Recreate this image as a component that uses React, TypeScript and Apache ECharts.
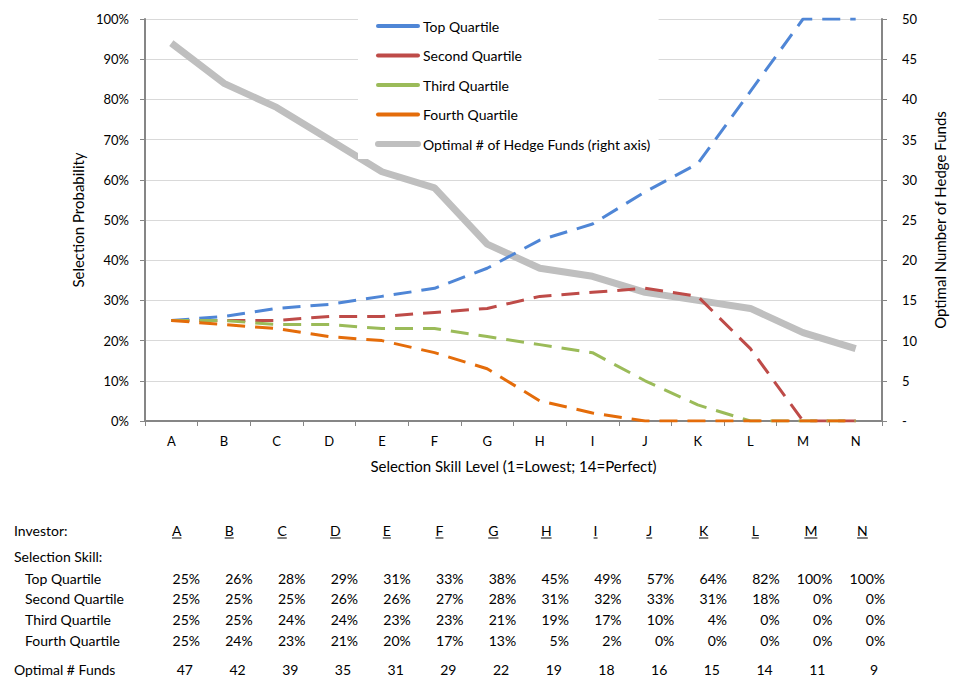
import React, { useEffect, useRef } from "react";
import * as echarts from "echarts";

const categories = ["A", "B", "C", "D", "E", "F", "G", "H", "I", "J", "K", "L", "M", "N"];
const topQuartile = [25, 26, 28, 29, 31, 33, 38, 45, 49, 57, 64, 82, 100, 100];
const secondQuartile = [25, 25, 25, 26, 26, 27, 28, 31, 32, 33, 31, 18, 0, 0];
const thirdQuartile = [25, 25, 24, 24, 23, 23, 21, 19, 17, 10, 4, 0, 0, 0];
const fourthQuartile = [25, 24, 23, 21, 20, 17, 13, 5, 2, 0, 0, 0, 0, 0];
const optimalFunds = [47, 42, 39, 35, 31, 29, 22, 19, 18, 16, 15, 14, 11, 9];

const seriesNames = [
  "Top Quartile",
  "Second Quartile",
  "Third Quartile",
  "Fourth Quartile",
  "Optimal # of Hedge Funds (right axis)",
];
const colors = ["#4F86D6", "#BE4B48", "#9BBB59", "#E46C0A", "#BFBFBF"];

const FONT = "Lato, 'Open Sans', sans-serif";

function measure(text: string, size: number): number {
  const c = document.createElement("canvas").getContext("2d");
  if (!c) return text.length * size * 0.5;
  c.font = `${size}px Lato`;
  return c.measureText(text).width;
}

export default function App() {
  const ref = useRef<HTMLDivElement>(null);
  useEffect(() => {
    if (!ref.current) return;
    const chart = echarts.init(ref.current, undefined, { renderer: "svg" });

    const colStep = 52.7;
    const col0 = 172;
    const tableSize = 14;
    const graphics: any[] = [];
    const txt = (text: string, x: number, y: number, align: string = "left") => {
      graphics.push({
        type: "text",
        x,
        y,
        style: {
          text,
          x: 0,
          y: 0,
          fill: "#000",
          font: `${tableSize}px ${FONT}`,
          align,
          verticalAlign: "middle",
        },
      });
    };
    txt("Investor:", 14, 530);
    txt("Selection Skill:", 14, 556);
    txt("Top Quartile", 25, 578);
    txt("Second Quartile", 25, 598);
    txt("Third Quartile", 25, 619);
    txt("Fourth Quartile", 25, 640);
    txt("Optimal # Funds", 14, 669);
    categories.forEach((c, i) => {
      const x = col0 + i * colStep;
      txt(c, x, 530);
      const w = measure(c, tableSize);
      graphics.push({
        type: "line",
        shape: { x1: x, y1: 538, x2: x + w, y2: 538 },
        style: { stroke: "#000", lineWidth: 1 },
      });
      const right = x + 28;
      txt(topQuartile[i] + "%", right, 578, "right");
      txt(secondQuartile[i] + "%", right, 598, "right");
      txt(thirdQuartile[i] + "%", right, 619, "right");
      txt(fourthQuartile[i] + "%", right, 640, "right");
      txt(String(optimalFunds[i]), x + 21, 669, "right");
    });

    const quartileSeries = [topQuartile, secondQuartile, thirdQuartile, fourthQuartile].map(
      (d, i) => ({
        name: seriesNames[i],
        type: "line",
        data: d,
        yAxisIndex: 0,
        symbol: "none",
        z: 3,
        lineStyle: { color: colors[i], width: 3, type: [18, 10] },
        itemStyle: { color: colors[i] },
      })
    );

    chart.setOption({
      animation: false,
      textStyle: { fontFamily: FONT },
      grid: { left: 145, right: 80, top: 19, bottom: 274, containLabel: false },
      legend: {
        orient: "vertical",
        left: 358,
        top: 12,
        padding: [7, 8, 8, 17],
        itemWidth: 40,
        itemHeight: 14,
        itemGap: 15.5,
        backgroundColor: "#fff",
        textStyle: { color: "#000", fontSize: 14, fontFamily: FONT },
        itemStyle: { opacity: 0 },
        lineStyle: { type: "solid" },
        data: seriesNames.map((n, i) => ({
          name: n,
          lineStyle: { type: "solid", width: i === 4 ? 6 : 4, color: colors[i], cap: "round" },
        })),
      },
      xAxis: {
        type: "category",
        data: categories,
        boundaryGap: true,
        name: "Selection Skill Level (1=Lowest; 14=Perfect)",
        nameLocation: "middle",
        nameGap: 37,
        nameTextStyle: { color: "#000", fontSize: 15, fontFamily: FONT },
        axisLine: { lineStyle: { color: "#868686", width: 2 } },
        axisTick: { show: true, length: 5, lineStyle: { color: "#868686" } },
        axisLabel: { color: "#000", fontSize: 13, margin: 13, fontFamily: FONT },
      },
      yAxis: [
        {
          type: "value",
          min: 0,
          max: 100,
          interval: 10,
          name: "Selection Probability",
          nameLocation: "middle",
          nameGap: 60,
          nameTextStyle: { color: "#000", fontSize: 15, fontFamily: FONT },
          axisLine: { show: true, lineStyle: { color: "#868686", width: 2 } },
          axisTick: { show: true, length: 5, lineStyle: { color: "#868686" } },
          axisLabel: {
            color: "#000",
            fontSize: 13,
            margin: 16,
            fontFamily: FONT,
            formatter: (v: number) => v + "%",
          },
          splitLine: { show: true, lineStyle: { color: "#D9D9D9", width: 1 } },
        },
        {
          type: "value",
          min: 0,
          max: 50,
          interval: 5,
          position: "right",
          name: "Optimal Number of Hedge Funds",
          nameLocation: "middle",
          nameGap: 50,
          nameTextStyle: { color: "#000", fontSize: 15, fontFamily: FONT },
          axisLine: { show: true, lineStyle: { color: "#868686", width: 2 } },
          axisTick: { show: true, length: 5, lineStyle: { color: "#868686" } },
          axisLabel: {
            color: "#000",
            fontSize: 13,
            margin: 20,
            fontFamily: FONT,
            formatter: (v: number) => (v === 0 ? "-" : String(v)),
          },
          splitLine: { show: false },
        },
      ],
      series: [
        ...quartileSeries,
        {
          name: seriesNames[4],
          type: "line",
          data: optimalFunds,
          yAxisIndex: 1,
          symbol: "none",
          z: 2,
          lineStyle: { color: colors[4], width: 7 },
          itemStyle: { color: colors[4] },
        },
      ],
      graphic: graphics,
    });
    return () => chart.dispose();
  }, []);
  return (
    <div
      ref={ref}
      style={{ position: "fixed", left: 0, top: 0, width: 962, height: 695, background: "#fff" }}
    />
  );
}
